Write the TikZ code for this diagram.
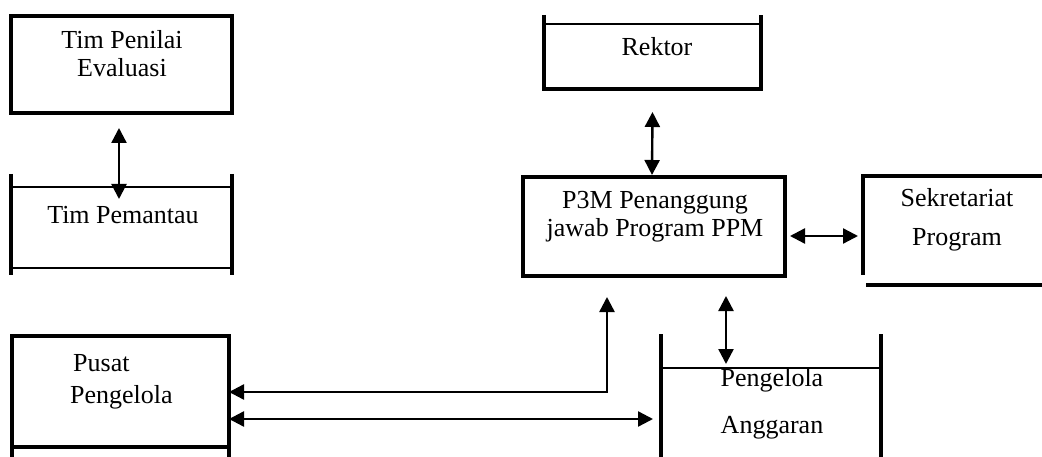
\documentclass[tikz,border=0pt]{standalone}
\usepackage{fontspec}
\setmainfont{Liberation Serif}
\usetikzlibrary{arrows.meta, positioning, calc}

\begin{document}
\begin{tikzpicture}[
    x=1pt, y=-1pt,
    % Invisible frame that carries the anchors of a box
    unit/.style={
        rectangle,
        inner sep=0pt,
        outer sep=0pt
    },
    % Text inside a box
    caption/.style={
        font=\fontsize{26}{28}\selectfont,
        align=#1,
        inner sep=0pt
    },
    caption/.default=center,
    % Box borders
    rim/.style={line width=3.2pt},
    thinrim/.style={line width=2.2pt},
    % Connection style
    link/.style={
        {Triangle[length=15pt,width=15pt]}-{Triangle[length=15pt,width=15pt]},
        line width=2.4pt
    }
]
\useasboundingbox (0,0) rectangle (1042,457);

% Left column
\node[unit, minimum width=221pt, minimum height=97pt] (penilai) at (121.5,64.5) {};
\draw[rim] (penilai.north west) rectangle (penilai.south east);
\node[caption] (penilai text) at (122,54) {Tim Penilai\\Evaluasi};

\node[unit, minimum width=221pt, minimum height=81pt] (pemantau) at (121.5,227.5) {};
\draw[rim] ($(pemantau.north west)+(0,-13)$) -- ($(pemantau.south west)+(0,7)$);
\draw[rim] ($(pemantau.north east)+(0,-13)$) -- ($(pemantau.south east)+(0,7)$);
\draw[thinrim] (pemantau.north west) -- (pemantau.north east);
\draw[thinrim] (pemantau.south west) -- (pemantau.south east);
\node[caption] (pemantau text) at (123,215) {Tim Pemantau};

\node[unit, minimum width=217pt, minimum height=111pt] (pusat) at (120.5,391.5) {};
\draw[rim] ($(pusat.south west)+(0,10)$) -- (pusat.north west) -- (pusat.north east) -- ($(pusat.south east)+(0,10)$);
\draw[rim] (pusat.south west) -- (pusat.south east);
\node[caption=left, anchor=west] (pusat text) at (70,382) {\hspace{3pt}Pusat\\[4pt]Pengelola};

% Right column
\node[unit, minimum width=217pt, minimum height=65pt] (rektor) at (652.5,56.5) {};
\draw[rim] ($(rektor.north west)+(0,-9)$) -- (rektor.south west) -- (rektor.south east) -- ($(rektor.north east)+(0,-9)$);
\draw[thinrim] (rektor.north west) -- (rektor.north east);
\node[caption] (rektor text) at (657,47) {Rektor};

\node[unit, minimum width=262pt, minimum height=99pt] (p3m) at (654,226.5) {};
\draw[rim] (p3m.north west) rectangle (p3m.south east);
\node[caption] (p3m text) at (655,217) {P3M Penanggung\\jawab Program PPM};

\node[unit, minimum width=183pt, minimum height=109pt] (sekretariat) at (954.5,230.5) {};
\draw[rim] ($(sekretariat.south west)+(0,-10)$) -- (sekretariat.north west) -- (sekretariat.north east);
\draw[rim] ($(sekretariat.south west)+(3,0)$) -- (sekretariat.south east);
\node[caption] (sekretariat text) at (957,219.5) {Sekretariat\\[11pt]Program};

\node[unit, minimum width=220pt, minimum height=89pt] (anggaran) at (771,412.5) {};
\draw[rim] (anggaran.south west) -- ($(anggaran.north west)+(0,-34)$);
\draw[rim] (anggaran.south east) -- ($(anggaran.north east)+(0,-34)$);
\draw[thinrim] (anggaran.north west) -- (anggaran.north east);
\node[caption] (anggaran text) at (772,403.5) {Pengelola\\[19pt]Anggaran};

% Connections
\draw[link] ($(penilai.south)+(-2.5,15)$) -- ($(pemantau.north)+(-2.5,12)$);
\draw[link] ($(rektor.south)+(0,23)$) -- ($(p3m.north)+(-2,-2)$);
\draw[link] ($(p3m.east)+(5,9.5)$) -- ($(sekretariat.west)+(-5,5.5)$);
\draw[link] ($(pusat.east)+(0,0.5)$) -| ($(p3m.south)+(-47,21)$);
\draw[link] ($(pusat.east)+(0,27.5)$) -- ($(anggaran.west)+(-8,6.5)$);
\draw[link] ($(p3m.south)+(72,20)$) -- ($(anggaran.north)+(-45,-4)$);

\end{tikzpicture}
\end{document}
